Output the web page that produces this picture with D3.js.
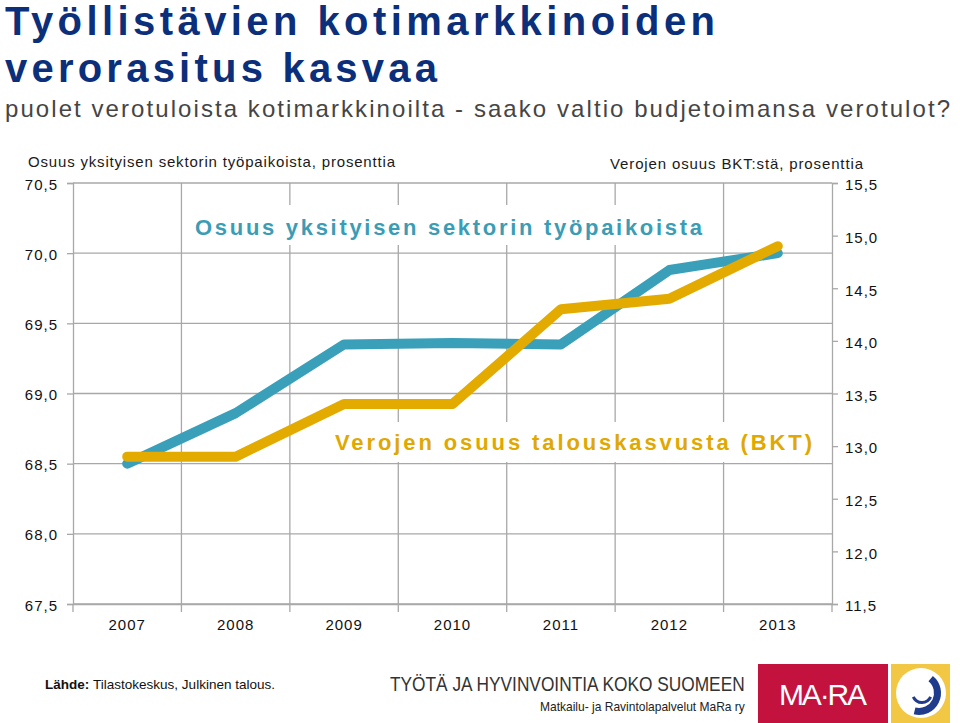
<!DOCTYPE html>
<html><head><meta charset="utf-8">
<script src="https://cdn.jsdelivr.net/npm/d3@7"></script>
<style>
body{margin:0;background:#fff;}
svg{display:block;font-family:"Liberation Sans",Arial,sans-serif;}
</style></head>
<body><svg id="c" width="960" height="723"></svg>
<script>
const years = ["2007","2008","2009","2010","2011","2012","2013"];
const privateShare = [68.5, 68.86, 69.35, 69.36, 69.35, 69.88, 70.0];
const taxShare = [12.9, 12.9, 13.4, 13.4, 14.3, 14.4, 14.9];
const leftTicks = [67.5, 68.0, 68.5, 69.0, 69.5, 70.0, 70.5];
const rightTicks = [11.5, 12.0, 12.5, 13.0, 13.5, 14.0, 14.5, 15.0, 15.5];

const svg = d3.select("#c");
const L = 73, R = 832, T = 183, B = 604;
const x = d3.scaleBand().domain(years).range([L, R]);
const yL = d3.scaleLinear().domain([67.5, 70.5]).range([B, T]);
const yR = d3.scaleLinear().domain([11.5, 15.5]).range([B, T]);
const fmt = d => d.toFixed(1).replace(".", ",");
const grid = "#a8a8a8";

// helper: text scaled horizontally to an exact width
function fitText(xp, yp, width, size, fill, str, weight) {
  const t = svg.append("text").attr("x",0).attr("y",0).attr("font-size",size)
    .attr("fill",fill).attr("font-weight",weight||"normal").text(str);
  const w = t.node().getComputedTextLength();
  t.attr("transform",`translate(${xp},${yp}) scale(${width/w},1)`);
  return t;
}

// titles
svg.append("text").attr("x",5).attr("y",35).attr("font-size",40).attr("font-weight","bold")
  .attr("fill","#0b2f7a").attr("textLength",710).attr("lengthAdjust","spacing").text("Työllistävien kotimarkkinoiden");
svg.append("text").attr("x",5).attr("y",82).attr("font-size",40).attr("font-weight","bold")
  .attr("fill","#0b2f7a").attr("textLength",432).attr("lengthAdjust","spacing").text("verorasitus kasvaa");
svg.append("text").attr("x",5).attr("y",117).attr("font-size",24)
  .attr("fill","#454545").attr("textLength",945).attr("lengthAdjust","spacing").text("puolet verotuloista kotimarkkinoilta - saako valtio budjetoimansa verotulot?");

// axis titles
svg.append("text").attr("x",28).attr("y",167).attr("font-size",15).attr("fill","#1a1a1a")
  .attr("textLength",367).attr("lengthAdjust","spacing").text("Osuus yksityisen sektorin työpaikoista, prosenttia");
svg.append("text").attr("x",610).attr("y",169).attr("font-size",15).attr("fill","#1a1a1a")
  .attr("textLength",253).attr("lengthAdjust","spacing").text("Verojen osuus BKT:stä, prosenttia");

// horizontal gridlines
svg.append("g").selectAll("line").data(leftTicks).join("line")
  .attr("x1",L).attr("x2",R).attr("y1",d=>yL(d)).attr("y2",d=>yL(d))
  .attr("stroke",grid).attr("stroke-width",1.3);
// vertical gridlines at category boundaries
const bounds = years.map(d => x(d)).concat([R]);
svg.append("g").selectAll("line").data(bounds.slice(1, -1)).join("line")
  .attr("x1",d=>d).attr("x2",d=>d).attr("y1",T).attr("y2",B+8)
  .attr("stroke",grid).attr("stroke-width",1.3);

// left axis
const gl = svg.append("g").attr("transform",`translate(${L},0)`)
  .call(d3.axisLeft(yL).tickValues(leftTicks).tickFormat(fmt).tickSize(6).tickPadding(9));
// right axis
const gr = svg.append("g").attr("transform",`translate(${R},0)`)
  .call(d3.axisRight(yR).tickValues(rightTicks).tickFormat(fmt).tickSize(6).tickPadding(7));
// bottom axis
const gb = svg.append("g").attr("transform",`translate(0,${B})`)
  .call(d3.axisBottom(x).tickSize(0).tickPadding(15));
[gl,gr,gb].forEach(g=>{
  g.select(".domain").attr("stroke",grid).attr("stroke-width",1.3);
  g.selectAll(".tick line").attr("stroke",grid).attr("stroke-width",1.3);
  g.selectAll("text").attr("font-size",15).attr("fill","#111")
    .attr("font-family","Liberation Sans, Arial, sans-serif").style("letter-spacing","1px");
});
gl.selectAll(".tick text").attr("dy","0.4em");
gr.selectAll(".tick text").attr("dy","0.45em");
gb.selectAll(".tick text").attr("dy","0.71em");
svg.append("line").attr("x1",L).attr("x2",L).attr("y1",B).attr("y2",B+8).attr("stroke",grid).attr("stroke-width",1.3);
svg.append("line").attr("x1",R).attr("x2",R).attr("y1",B).attr("y2",B+8).attr("stroke",grid).attr("stroke-width",1.3);

// label boxes
svg.append("rect").attr("x",188).attr("y",205).attr("width",522).attr("height",40).attr("fill","#fff");
svg.append("rect").attr("x",326).attr("y",422).attr("width",494).attr("height",40).attr("fill","#fff");
svg.append("text").attr("x",195).attr("y",235).attr("font-size",22).attr("font-weight","bold")
  .attr("fill","#3a9db5").attr("textLength",507).attr("lengthAdjust","spacing").text("Osuus yksityisen sektorin työpaikoista");
svg.append("text").attr("x",335).attr("y",450).attr("font-size",22).attr("font-weight","bold")
  .attr("fill","#e0a800").attr("textLength",477).attr("lengthAdjust","spacing").text("Verojen osuus talouskasvusta (BKT)");

// lines
const cx = d => x(d) + x.bandwidth()/2;
const lineL = d3.line().x((d,i)=>cx(years[i])).y(d=>yL(d));
const lineR = d3.line().x((d,i)=>cx(years[i])).y(d=>yR(d));
svg.append("path").attr("d",lineL(privateShare)).attr("fill","none").attr("stroke","#3a9fb9")
  .attr("stroke-width",10).attr("stroke-linejoin","round").attr("stroke-linecap","round");
svg.append("path").attr("d",lineR(taxShare)).attr("fill","none").attr("stroke","#e3ab00")
  .attr("stroke-width",10).attr("stroke-linejoin","round").attr("stroke-linecap","round");

// footer
const src = svg.append("text").attr("x",45).attr("y",689).attr("font-size",13.5).attr("fill","#111")
  .attr("textLength",230).attr("lengthAdjust","spacing");
src.append("tspan").attr("font-weight","bold").text("Lähde: ");
src.append("tspan").text("Tilastokeskus, Julkinen talous.");
fitText(390, 691, 355, 20, "#333", "TYÖTÄ JA HYVINVOINTIA KOKO SUOMEEN");
fitText(540, 711, 205, 12.5, "#222", "Matkailu- ja Ravintolapalvelut MaRa ry");

// logo
svg.append("rect").attr("x",758).attr("y",664).attr("width",130).attr("height",59).attr("fill","#c4123e");
svg.append("text").attr("x",823).attr("y",705).attr("text-anchor","middle").attr("font-size",30)
  .attr("fill","#fff").attr("textLength",88).attr("lengthAdjust","spacing").text("MA·RA");
svg.append("rect").attr("x",891).attr("y",664).attr("width",59).attr("height",59).attr("fill","#f2c744");
svg.append("circle").attr("cx",921).attr("cy",693).attr("r",25).attr("fill","#fff");
const arc = d3.arc();
svg.append("path").attr("transform","translate(919,693)")
  .attr("d",arc({innerRadius:15,outerRadius:22,startAngle:-2.9,endAngle:-5.6}))
  .attr("fill","#1f3b8c");
svg.append("path").attr("transform","translate(922,693)")
  .attr("d",arc({innerRadius:8,outerRadius:11,startAngle:2.0,endAngle:4.3}))
  .attr("fill","#1f3b8c");
</script></body></html>
